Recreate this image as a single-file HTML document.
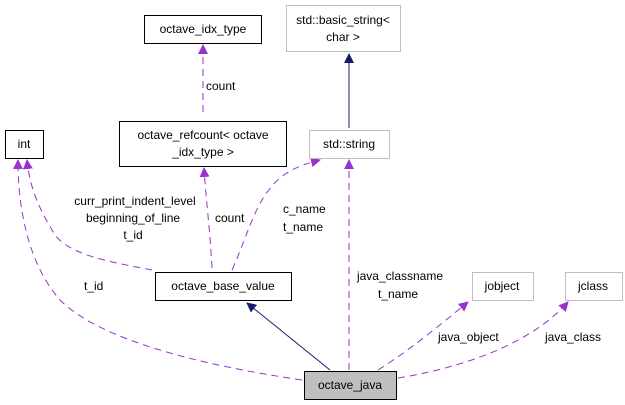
<!DOCTYPE html>
<html><head><style>body{margin:0;background:#fff}svg{display:block}text{font-family:"Liberation Sans",sans-serif;font-size:12px;fill:#000}</style></head><body>
<svg width="625" height="405" viewBox="0 0 625 405">
<defs>
<marker id="p" markerWidth="10" markerHeight="10" refX="9" refY="5" orient="auto" markerUnits="userSpaceOnUse"><path d="M0,0 L10,5 L0,10 z" fill="#9a32cd"/></marker>
<marker id="b" markerWidth="10" markerHeight="10" refX="9" refY="5" orient="auto" markerUnits="userSpaceOnUse"><path d="M0,0 L10,5 L0,10 z" fill="#191970"/></marker>
</defs>
<g fill="none" stroke="#9a32cd" stroke-dasharray="7,5" stroke-width="1">
<path d="M203,112 L203,45" marker-end="url(#p)"/>
<path d="M212,268 C210,230 206,200 204,168" marker-end="url(#p)"/>
<path d="M232,270 C250,230 255,200 280,178 C290,170 300,165 320,160" marker-end="url(#p)"/>
<path d="M152,270 C110,262 70,255 55,235 C40,210 30,190 27,160" marker-end="url(#p)"/>
<path d="M302,380 C200,365 100,340 60,300 C25,260 18,200 18,160" marker-end="url(#p)"/>
<path d="M349,370 L349,160" marker-end="url(#p)"/>
<path d="M378,370 C410,350 440,325 468,302" marker-end="url(#p)"/>
<path d="M398,378 C460,368 530,345 568,302" marker-end="url(#p)"/>
</g>
<path d="M349,128 L349,54" stroke="#191970" fill="none" marker-end="url(#b)"/>
<path d="M330,370 L247,303" stroke="#191970" fill="none" marker-end="url(#b)"/>
<g stroke-width="1">
<rect x="144.5" y="15.5" width="117" height="28" fill="#fff" stroke="#000"/>
<rect x="286.5" y="5.5" width="114" height="46" fill="#fff" stroke="#bfbfbf"/>
<rect x="5.5" y="130.5" width="38" height="28" fill="#fff" stroke="#000"/>
<rect x="119.5" y="121.5" width="167" height="45" fill="#fff" stroke="#000"/>
<rect x="309.5" y="130.5" width="80" height="28" fill="#fff" stroke="#bfbfbf"/>
<rect x="155.5" y="272.5" width="136" height="28" fill="#fff" stroke="#000"/>
<rect x="472.5" y="272.5" width="61" height="28" fill="#fff" stroke="#bfbfbf"/>
<rect x="565.5" y="272.5" width="57" height="28" fill="#fff" stroke="#bfbfbf"/>
<rect x="304.5" y="371.5" width="92" height="28" fill="#bfbfbf" stroke="#000"/>
</g>
<g text-anchor="middle">
<text x="203" y="33">octave_idx_type</text>
<text x="343" y="24">std::basic_string&lt;</text>
<text x="343" y="41">char &gt;</text>
<text x="24" y="148">int</text>
<text x="203" y="139">octave_refcount&lt; octave</text>
<text x="203" y="156">_idx_type &gt;</text>
<text x="349" y="148">std::string</text>
<text x="223" y="290">octave_base_value</text>
<text x="502" y="290">jobject</text>
<text x="593" y="290">jclass</text>
<text x="350" y="389">octave_java</text>
<text x="135" y="205">curr_print_indent_level</text>
<text x="133" y="222">beginning_of_line</text>
<text x="133" y="239">t_id</text>
<text x="400" y="280">java_classname</text>
<text x="398" y="298">t_name</text>
</g>
<text x="206" y="90">count</text>
<text x="215" y="222">count</text>
<text x="283" y="213">c_name</text>
<text x="283" y="231">t_name</text>
<text x="84" y="290">t_id</text>
<text x="438" y="341">java_object</text>
<text x="545" y="341">java_class</text>
</svg>
</body></html>
